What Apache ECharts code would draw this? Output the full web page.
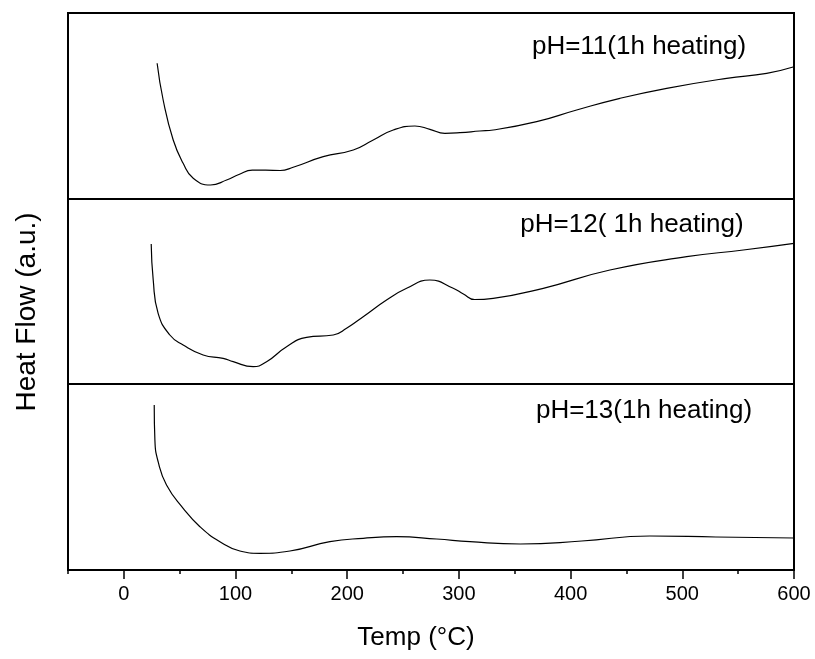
<!DOCTYPE html>
<html>
<head>
<meta charset="utf-8">
<script src="https://cdn.jsdelivr.net/npm/echarts@6/dist/echarts.min.js"></script>
<style>html,body{margin:0;padding:0;background:#fff}#c{width:815px;height:659px}</style>
</head>
<body>
<div id="c"></div>
<script>
// ---- data ----
const tickLabels = [0, 100, 200, 300, 400, 500, 600];
const panelLabels = ['pH=11(1h heating)', 'pH=12( 1h heating)', 'pH=13(1h heating)'];

const tempPH11 = [29.8, 35.2, 44.2, 53.1, 62.1, 77.6, 92, 103, 115, 127, 140, 151.6, 178.5, 205.4, 223.3, 241.2, 260.6, 274, 287.4, 300.9, 318.7, 330.7, 369.6, 405.4, 444.2, 486, 539.7, 575.5, 600];
const flowPH11 = [135.7, 99, 59, 35.7, 20.7, 14, 19, 24.5, 28.8, 28.8, 28.5, 31.7, 42.3, 49, 59, 69, 73, 69.7, 65.7, 66.3, 68, 69, 77.3, 89, 100.7, 110.7, 120.7, 125.7, 132.3];

const tempPH12 = [24.5, 26.3, 30.7, 41.2, 53.1, 71, 88.9, 97.9, 115.8, 127.8, 145.7, 163.6, 187.5, 199.4, 214.3, 235.2, 253.2, 274, 294.9, 304, 314, 330.7, 375.5, 435.2, 503.9, 554.6, 600];
const flowPH12 = [140, 104, 70.7, 49, 39, 29, 25.7, 22.3, 17.3, 22.3, 37.3, 46.7, 49, 55.7, 67.3, 84, 95.7, 104, 95.7, 90, 84.5, 85.7, 95.7, 114, 127.3, 134, 140.7];

const tempPH13 = [27.2, 27.8, 30.7, 38.2, 53.1, 68.1, 86, 103.9, 121.8, 148.7, 184.5, 214.3, 244.2, 280, 309.9, 355, 410, 471, 530, 600];
const flowPH13 = [165, 130, 108.3, 85, 61.7, 43.3, 28.3, 19, 16.7, 19, 28.3, 31.7, 33.3, 31, 28.3, 26, 29, 34, 33, 32];

// ---- chart ----
const FONT = 'Liberation Sans, Arial, sans-serif';
const pair = (xs, ys) => xs.map((x, i) => [x, ys[i]]);
const grids = [
  {left: 68, right: 21, top: 13, height: 186},
  {left: 68, right: 21, top: 199, height: 185},
  {left: 68, right: 21, top: 384, height: 186}
].map(g => Object.assign({show: true, borderColor: '#000', borderWidth: 2, backgroundColor: 'transparent'}, g));

const xAxes = [];
const yAxes = [];
for (let i = 0; i < 3; i++) {
  const last = i === 2;
  xAxes.push({
    type: 'value', gridIndex: i, min: -50, max: 600, position: 'bottom',
    axisLine: {show: true, onZero: false, lineStyle: {color: '#000', width: 2}},
    axisTick: {show: last, length: 9, lineStyle: {color: '#000', width: 1.5}, customValues: tickLabels},
    axisLabel: {show: last, margin: 14, fontSize: 20, color: '#000', fontFamily: FONT, customValues: tickLabels},
    splitLine: {show: false}
  });
  yAxes.push({
    type: 'value', gridIndex: i, min: 0, max: grids[i].height, position: 'left',
    axisLine: {show: true, onZero: false, lineStyle: {color: '#000', width: 2}},
    axisTick: {show: false}, axisLabel: {show: false}, splitLine: {show: false}
  });
}
// minor ticks every 50 on bottom axis
xAxes.push({
  type: 'value', gridIndex: 2, min: -50, max: 600, interval: 50, position: 'bottom',
  axisLine: {show: false, onZero: false}, axisTick: {show: true, length: 4, lineStyle: {color: '#000', width: 1.5}},
  axisLabel: {show: false}, splitLine: {show: false}
});

const mk = (xi, yi, d) => ({
  type: 'line', xAxisIndex: xi, yAxisIndex: yi, data: d, showSymbol: false,
  smooth: 0.5, lineStyle: {color: '#000', width: 1.2}, silent: true, animation: false
});

const option = {
  animation: false,
  backgroundColor: '#fff',
  grid: grids,
  xAxis: xAxes,
  yAxis: yAxes,
  series: [
    mk(0, 0, pair(tempPH11, flowPH11)),
    mk(1, 1, pair(tempPH12, flowPH12)),
    mk(2, 2, pair(tempPH13, flowPH13))
  ],
  graphic: [
    {type: 'text', x: 639, y: 47, style: {text: panelLabels[0], font: '26px ' + FONT, fill: '#000', align: 'center', verticalAlign: 'middle'}},
    {type: 'text', x: 632, y: 225, style: {text: panelLabels[1], font: '26px ' + FONT, fill: '#000', align: 'center', verticalAlign: 'middle'}},
    {type: 'text', x: 644, y: 411, style: {text: panelLabels[2], font: '26px ' + FONT, fill: '#000', align: 'center', verticalAlign: 'middle'}},
    {type: 'text', x: 416, y: 638, style: {text: 'Temp (°C)', font: '26px ' + FONT, fill: '#000', align: 'center', verticalAlign: 'middle'}},
    {type: 'text', x: 27, y: 312, rotation: Math.PI / 2, style: {text: 'Heat Flow (a.u.)', font: '28px ' + FONT, fill: '#000', align: 'center', verticalAlign: 'middle'}}
  ]
};
const chart = echarts.init(document.getElementById('c'), null, {renderer: 'canvas'});
chart.setOption(option);
</script>
</body>
</html>
